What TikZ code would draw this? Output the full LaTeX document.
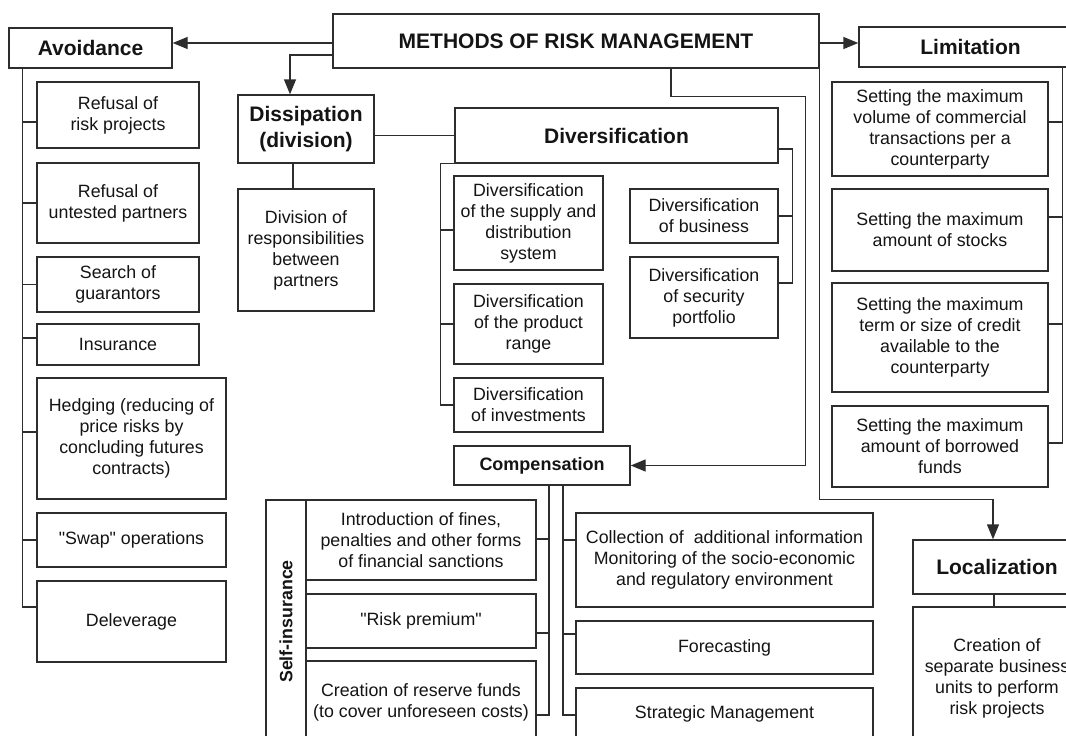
\documentclass[tikz,border=0pt]{standalone}
\usepackage{fontspec}
\setmainfont{Liberation Sans}
\newfontfamily\qfont{Liberation Sans}
\usetikzlibrary{arrows.meta}
\definecolor{ln}{RGB}{45,45,45}
\definecolor{tx}{RGB}{20,20,20}
\newcommand{\sq}{{\qfont"}}
\tikzset{
  box/.style={draw=ln, line width=1.4pt, text=tx, align=center, inner sep=0pt, font=\fontsize{17.8}{21}\selectfont},
  head/.style={box, font=\bfseries\fontsize{21}{26}\selectfont},
  conn/.style={draw=ln, line width=1.4pt},
  arr/.style={conn, -{Triangle[length=15pt,width=12pt]}},
}
\begin{document}
\begin{tikzpicture}[x=1pt,y=-1pt]
\clip (0,0) rectangle (1066,736);
\fill[white] (0,0) rectangle (1066,736);
% headings
\node[head, minimum width=486pt, minimum height=54pt] (main) at (576,41) {METHODS OF RISK MANAGEMENT};
\node[head, minimum width=163pt, minimum height=40pt] (avoid) at (90.5,48) {Avoidance};
\node[head, minimum width=223pt, minimum height=40pt] (lim) at (970.5,47) {Limitation};
\node[head, minimum width=136pt, minimum height=68pt] (diss) at (306,129) {Dissipation\\(division)};
\node[head, minimum width=323pt, minimum height=55pt] (divers) at (616.5,135.5) {Diversification};
\node[head, minimum width=168pt, minimum height=54pt] (loc) at (997,567) {Localization};
\node[box, font=\bfseries\fontsize{18}{21}\selectfont, minimum width=176pt, minimum height=39pt] (comp) at (542,465.5) {Compensation};
% dissipation
\node[box, minimum width=136pt, minimum height=122pt] (divr) at (306,250) {Division of\\responsibilities\\between\\partners};
% diversification
\node[box, minimum width=149pt, minimum height=94pt] (dsup) at (528.5,223) {Diversification\\of the supply and\\distribution\\system};
\node[box, minimum width=149pt, minimum height=80pt] (dprod) at (528.5,324) {Diversification\\of the product\\range};
\node[box, minimum width=149pt, minimum height=54pt] (dinv) at (528.5,405) {Diversification\\of investments};
\node[box, minimum width=148pt, minimum height=54pt] (dbus) at (704,216) {Diversification\\of business};
\node[box, minimum width=148pt, minimum height=81pt] (dsec) at (704,297.5) {Diversification\\of security\\portfolio};
% avoidance
\node[box, minimum width=162pt, minimum height=66pt] (a1) at (118,115) {Refusal of\\risk projects};
\node[box, minimum width=162pt, minimum height=80pt] (a2) at (118,203) {Refusal of\\untested partners};
\node[box, minimum width=162pt, minimum height=55pt] (a3) at (118,284.5) {Search of\\guarantors};
\node[box, minimum width=162pt, minimum height=41pt] (a4) at (118,344.5) {Insurance};
\node[box, minimum width=189pt, minimum height=121pt] (a5) at (131.5,438.5) {Hedging (reducing of\\price risks by\\concluding futures\\contracts)};
\node[box, minimum width=189pt, minimum height=54pt] (a6) at (131.5,540) {\sq Swap\sq{} operations};
\node[box, minimum width=189pt, minimum height=81pt] (a7) at (131.5,621.5) {Deleverage};
% limitation
\node[box, minimum width=216pt, minimum height=94pt] (l1) at (940,129) {Setting the maximum\\volume of commercial\\transactions per a\\counterparty};
\node[box, minimum width=216pt, minimum height=82pt] (l2) at (940,230) {Setting the maximum\\amount of stocks};
\node[box, minimum width=216pt, minimum height=109pt] (l3) at (940,337.5) {Setting the maximum\\term or size of credit\\available to the\\counterparty};
\node[box, minimum width=216pt, minimum height=81pt] (l4) at (940,446.5) {Setting the maximum\\amount of borrowed\\funds};
% compensation
\node[box, minimum width=40pt, minimum height=243pt] (selfcol) at (286,621.5) {};
\node[rotate=90, text=tx, font=\bfseries\fontsize{17.8}{21}\selectfont] (selft) at (selfcol.center) {Self-insurance};
\node[box, minimum width=230pt, minimum height=80pt] (s1) at (421,540) {Introduction of fines,\\penalties and other forms\\of financial sanctions};
\node[box, minimum width=230pt, minimum height=54pt] (s2) at (421,621) {\sq Risk premium\sq};
\node[box, minimum width=230pt, minimum height=82pt] (s3) at (421,702) {Creation of reserve funds\\(to cover unforeseen costs)};
\node[box, minimum width=297pt, minimum height=94pt] (c1) at (724.5,560) {Collection of\ \ additional information\\Monitoring of the socio-economic\\and regulatory environment};
\node[box, minimum width=297pt, minimum height=53pt] (c2) at (724.5,647.5) {Forecasting};
\node[box, minimum width=297pt, minimum height=52pt] (c3) at (724.5,714) {Strategic Management};
% localization
\node[box, minimum width=168pt, minimum height=142pt] (creat) at (997,678) {Creation of\\separate business\\units to perform\\risk projects};

% arrows from main
\coordinate (avin) at ([yshift=5pt]avoid.east);
\draw[arr] (main.west |- avin) -- (avin);
\coordinate (limin) at ([yshift=4pt]lim.west);
\draw[arr] (main.east |- limin) -- (limin);
\draw[arr] ([yshift=-14pt]main.west) -| ([xshift=-16pt]diss.north);
\draw[arr] ([xshift=95pt]main.south) -- ++(0,28) -| ([xshift=175pt]comp.east) -- (comp.east);
\draw[arr] (main.south east) -- ++(0,431) -| ([xshift=-4pt]loc.north);
% dissipation
\draw[conn] (diss.east |- divers.west) -- (divers.west);
\draw[conn] ([xshift=-13pt]diss.south) -- ([xshift=-13pt]divr.north);
% avoidance bus
\draw[conn] ([xshift=14pt]avoid.south west) |- ([yshift=14.5pt]a7.west);
\draw[conn] ([yshift=-7pt]a1.west) -- ++(-14,0);
\draw[conn] (a2.west) -- ++(-14,0);
\draw[conn] (a3.west) -- ++(-14,0);
\draw[conn] ([yshift=6.5pt]a4.west) -- ++(-14,0);
\draw[conn] ([yshift=6.5pt]a5.west) -- ++(-14,0);
\draw[conn] (a6.west) -- ++(-14,0);
% limitation bus
\draw[conn] ([xshift=-20pt]lim.south east) |- ([yshift=3.5pt]l4.east);
\draw[conn] ([yshift=7pt]l1.east) -- ++(14,0);
\draw[conn] ([yshift=13pt]l2.east) -- ++(14,0);
\draw[conn] ([yshift=13.5pt]l3.east) -- ++(14,0);
% diversification brackets
\draw[conn] (divers.south west) -- ++(-14,0) |- (dinv.west);
\draw[conn] ([yshift=-7pt]dsup.west) -- ++(-13,0);
\draw[conn] (dprod.west) -- ++(-13,0);
\draw[conn] ([yshift=-13.5pt]divers.east) -- ++(14,0) |- ([yshift=14.5pt]dsec.east);
\draw[conn] (dbus.east) -- ++(14,0);
% compensation buses
\draw[conn] ([xshift=7pt]comp.south) |- ([yshift=-13pt]s3.east);
\draw[conn] ([yshift=1pt]s1.east) -- ++(13,0);
\draw[conn] ([yshift=-12pt]s2.east) -- ++(13,0);
\draw[conn] ([xshift=21pt]comp.south) |- ([yshift=-1pt]c3.west);
\draw[conn] ([yshift=20pt]c1.west) -- ++(-13,0);
\draw[conn] ([yshift=13.5pt]c2.west) -- ++(-13,0);
% localization
\draw[conn] ([xshift=-3pt]loc.south) -- ([xshift=-3pt]creat.north);
\end{tikzpicture}
\end{document}
